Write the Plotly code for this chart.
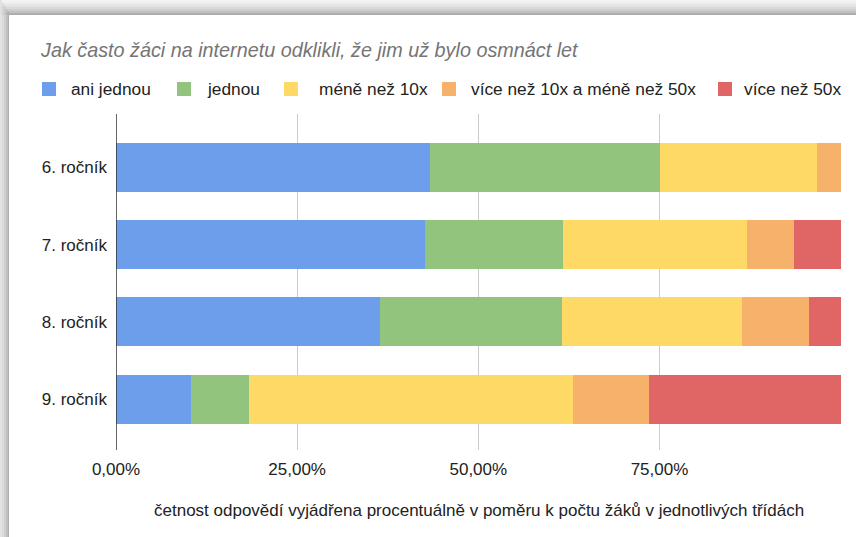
import plotly.graph_objects as go

categories = ["6. ročník", "7. ročník", "8. ročník", "9. ročník"]
series_names = ["ani jednou", "jednou", "méně než 10x", "více než 10x a méně než 50x", "více než 50x"]
ani_jednou = [0.434, 0.426, 0.365, 0.104]
jednou = [0.317, 0.191, 0.250, 0.080]
mene_nez_10x = [0.217, 0.254, 0.249, 0.447]
vice_10_mene_50 = [0.032, 0.065, 0.093, 0.105]
vice_nez_50x = [0.000, 0.064, 0.043, 0.264]
series_values = [ani_jednou, jednou, mene_nez_10x, vice_10_mene_50, vice_nez_50x]
colors = ["#6d9eeb", "#93c47d", "#ffd966", "#f6b26b", "#e06666"]
x_tickvals = [0, 0.25, 0.5, 0.75, 1.0]
x_ticktext = ["0,00%", "25,00%", "50,00%", "75,00%", ""]

title_text = "Jak často žáci na internetu odklikli, že jim už bylo osmnáct let"
x_title = "četnost odpovědí vyjádřena procentuálně v poměru k počtu žáků v jednotlivých třídách"

W, H = 856, 537
L, R, T, B = 116, 841, 114, 450
FONT = "Arial, Liberation Sans, Helvetica, sans-serif"


def px(x):
    return (x - L) / (R - L)


def py(y):
    return (B - y) / (B - T)


fig = go.Figure()
ypos = list(range(len(categories)))
for name, vals, col in zip(series_names, series_values, colors):
    fig.add_trace(go.Bar(
        y=ypos, x=vals, name=name, orientation="h",
        marker=dict(color=col, line=dict(width=0)),
        width=0.635, showlegend=False, hoverinfo="skip",
    ))

shapes = []
# card shadow frame (top and left)
top_cols = ["#f2f2f2", "#ebebeb", "#e2e2e2", "#d8d8d8", "#cccccc", "#bdbdbd", "#adadad"]
n = len(top_cols)
for i, c in enumerate(top_cols):
    y0 = i * 15 / n
    y1 = (i + 1) * 15 / n
    shapes.append(dict(type="rect", xref="paper", yref="paper", layer="below",
                       x0=px(0), x1=px(W), y0=py(y1), y1=py(y0),
                       fillcolor=c, line=dict(width=0)))
left_cols = ["#e2e2e2", "#d8d8d8", "#cdcdcd", "#c0c0c0", "#b0b0b0"]
m = len(left_cols)
for i, c in enumerate(left_cols):
    x0 = i * 9 / m
    x1 = (i + 1) * 9 / m
    shapes.append(dict(type="rect", xref="paper", yref="paper", layer="below",
                       x0=px(x0), x1=px(x1), y0=py(H), y1=py(i * 15 / m),
                       fillcolor=c, line=dict(width=0)))

# manual legend
leg_sq_x = [42, 177, 284, 442, 718]
leg_tx_x = [69, 205, 317, 469, 742]
leg_y = 89
annotations = []
for name, col, sx, tx in zip(series_names, colors, leg_sq_x, leg_tx_x):
    shapes.append(dict(type="rect", xref="paper", yref="paper",
                       x0=px(sx), x1=px(sx + 14), y0=py(leg_y + 7), y1=py(leg_y - 7),
                       fillcolor=col, line=dict(width=0)))
    annotations.append(dict(xref="paper", yref="paper", x=px(tx), y=py(leg_y),
                            xanchor="left", yanchor="middle", showarrow=False,
                            text=name, font=dict(family=FONT, size=17.3, color="#222222")))

annotations.append(dict(xref="paper", yref="paper", x=px(38), y=py(50),
                        xanchor="left", yanchor="middle", showarrow=False,
                        text="<i>" + title_text + "</i>",
                        font=dict(family=FONT, size=19.8, color="#757575")))
annotations.append(dict(xref="paper", yref="paper", x=0.5, y=py(510),
                        xanchor="center", yanchor="middle", showarrow=False,
                        text=x_title,
                        font=dict(family=FONT, size=17, color="#222222")))

fig.update_layout(
    width=W, height=H,
    margin=dict(l=L, r=W - R, t=T, b=H - B, pad=0),
    paper_bgcolor="white", plot_bgcolor="white",
    barmode="stack", bargap=0,
    separators=", ",
    shapes=shapes, annotations=annotations,
    font=dict(family=FONT, size=17, color="#222222"),
    xaxis=dict(range=[0, 1.0005], tickvals=x_tickvals, ticktext=x_ticktext,
               showgrid=True, gridcolor="#cccccc", gridwidth=1,
               zeroline=False, showline=False, ticks="",
               ticklabelstandoff=7, fixedrange=True,
               tickfont=dict(family=FONT, size=17, color="#222222")),
    yaxis=dict(range=[3.658, -0.693], tickvals=ypos, ticktext=categories,
               showgrid=False, zeroline=False, fixedrange=True,
               showline=False, ticks="", ticklabelstandoff=8,
               tickfont=dict(family=FONT, size=17, color="#222222")),
)
# left axis line at x=0
fig.add_shape(type="line", xref="x", yref="paper", x0=0, x1=0, y0=0, y1=1,
              line=dict(color="#333333", width=1.5), layer="above")

fig.write_html("out.html", config={"displayModeBar": False},
               post_script="document.body.style.margin='0';")
